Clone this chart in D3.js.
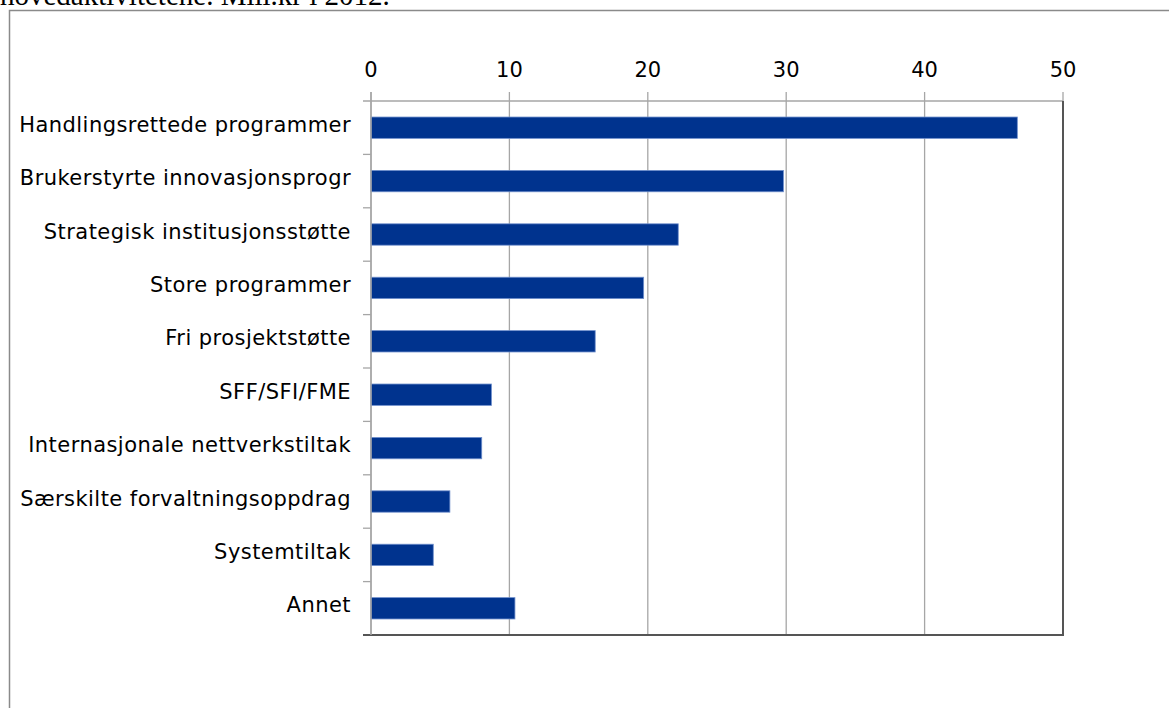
<!DOCTYPE html>
<html><head><meta charset="utf-8">
<script src="https://d3js.org/d3.v7.min.js"></script>
<style>body{margin:0;background:#fff;} svg{display:block;}</style>
</head><body>
<script>
const categories = ["Handlingsrettede programmer","Brukerstyrte innovasjonsprogr","Strategisk institusjonsstøtte","Store programmer","Fri prosjektstøtte","SFF/SFI/FME","Internasjonale nettverkstiltak","Særskilte forvaltningsoppdrag","Systemtiltak","Annet"];
const values = [46.7, 29.8, 22.2, 19.7, 16.2, 8.7, 8.0, 5.7, 4.5, 10.4];
const tickValues = [0, 10, 20, 30, 40, 50];
const titleText = "hovedaktivitetene. Mill.kr i 2012.";

const W = 1169, H = 708;
const svg = d3.select("body").append("svg").attr("width", W).attr("height", H);

// partially visible caption above the frame
svg.append("text").attr("x", 0).attr("y", 5)
  .attr("font-family", "Liberation Serif, Times New Roman, serif")
  .attr("font-size", 29).attr("fill", "#000").text(titleText);

// outer frame
svg.append("rect").attr("x", 9.5).attr("y", 10.5).attr("width", W + 20).attr("height", H + 20)
  .attr("fill", "none").attr("stroke", "#8a8a8a").attr("stroke-width", 1.5);

const pLeft = 371, pRight = 1063, pTop = 101, pBottom = 635;
const x = d3.scaleLinear().domain([0, 50]).range([pLeft, pRight]);
const y = d3.scaleBand().domain(categories).range([pTop, pBottom]).paddingInner(0.6).paddingOuter(0.3);
const yb = d3.scaleBand().domain(categories).range([pTop, pBottom]);

const font = "DejaVu Sans, Verdana, sans-serif";

// vertical gridlines with top ticks
svg.append("g").selectAll("line").data(tickValues).join("line")
  .attr("x1", d => x(d)).attr("x2", d => x(d))
  .attr("y1", pTop - 9).attr("y2", pBottom)
  .attr("stroke", "#a6a6a6").attr("stroke-width", 1.3);

// top border line (extends left as tick)
svg.append("line").attr("x1", pLeft - 8).attr("x2", pRight).attr("y1", pTop).attr("y2", pTop)
  .attr("stroke", "#a6a6a6").attr("stroke-width", 1.3);

// left category ticks at band boundaries
svg.append("g").selectAll("line").data(categories.slice(1)).join("line")
  .attr("x1", pLeft - 8).attr("x2", pLeft)
  .attr("y1", d => yb(d)).attr("y2", d => yb(d))
  .attr("stroke", "#a6a6a6").attr("stroke-width", 1.3);

// bars
svg.append("g").selectAll("rect").data(values).join("rect")
  .attr("x", x(0)).attr("y", (d, i) => y(categories[i]))
  .attr("width", d => x(d) - x(0)).attr("height", y.bandwidth())
  .attr("fill", "#00338e").attr("stroke", "#6f8fcc").attr("stroke-width", 0.8);

// right and bottom border (dark)
svg.append("line").attr("x1", pRight).attr("x2", pRight).attr("y1", pTop).attr("y2", pBottom + 1)
  .attr("stroke", "#555").attr("stroke-width", 2);
svg.append("line").attr("x1", pLeft - 8).attr("x2", pRight + 1).attr("y1", pBottom).attr("y2", pBottom)
  .attr("stroke", "#555").attr("stroke-width", 2);
// left axis line
svg.append("line").attr("x1", pLeft).attr("x2", pLeft).attr("y1", pTop - 9).attr("y2", pBottom)
  .attr("stroke", "#a6a6a6").attr("stroke-width", 1.5);

// tick labels
svg.append("g").selectAll("text").data(tickValues).join("text")
  .attr("x", d => x(d)).attr("y", 77).attr("text-anchor", "middle")
  .attr("font-family", font).attr("font-size", 21).attr("fill", "#000").text(d => d);

// category labels
svg.append("g").selectAll("text").data(categories).join("text")
  .attr("x", 351).attr("y", d => yb(d) + yb.bandwidth() / 2 + 4).attr("text-anchor", "end")
  .attr("font-family", font).attr("font-size", 21).attr("letter-spacing", 0.45)
  .attr("fill", "#000").text(d => d);
</script>
</body></html>
